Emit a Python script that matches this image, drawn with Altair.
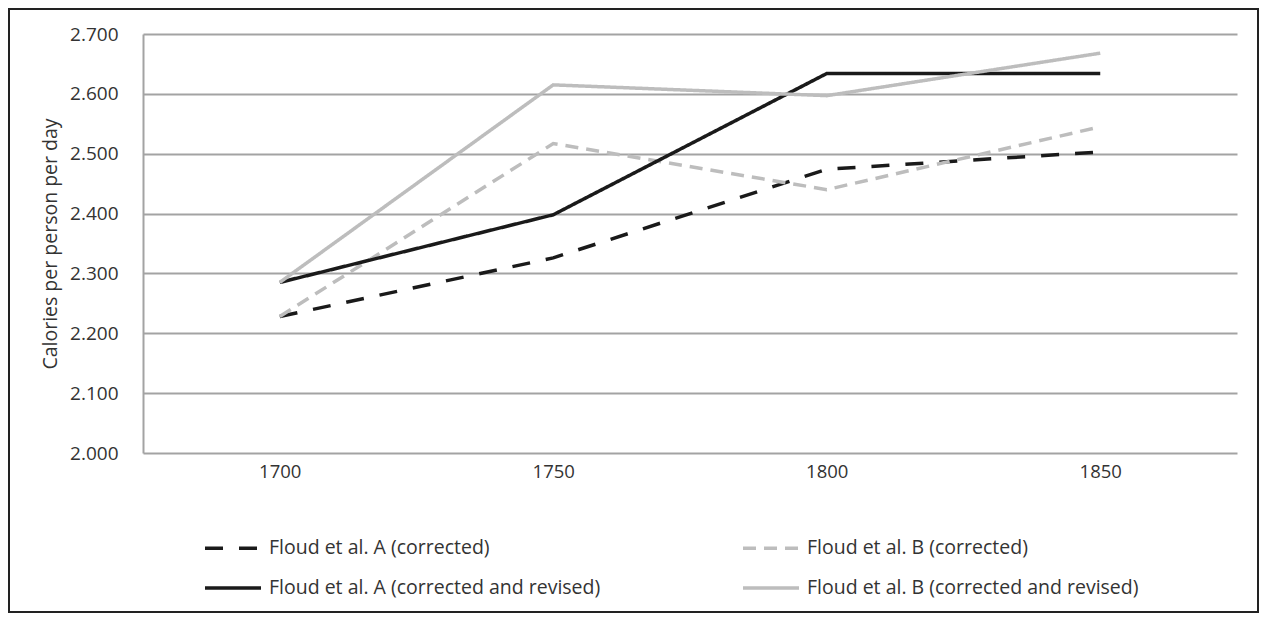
import altair as alt
import pandas as pd

years = ["1700", "1750", "1800", "1850"]
series_names = [
    "Floud et al. A (corrected)",
    "Floud et al. B (corrected)",
    "Floud et al. A (corrected and revised)",
    "Floud et al. B (corrected and revised)",
]
a_corrected = [2228, 2326, 2474, 2503]
b_corrected = [2228, 2517, 2440, 2545]
a_revised = [2285, 2398, 2634, 2634]
b_revised = [2285, 2615, 2597, 2668]
y_ticks = [2000, 2100, 2200, 2300, 2400, 2500, 2600, 2700]

rows = []
for name, vals in zip(series_names, [a_corrected, b_corrected, a_revised, b_revised]):
    for yr, v in zip(years, vals):
        rows.append({"year": yr, "value": v, "series": name})
df = pd.DataFrame(rows)

FONT = "Open Sans"
TXT = "#333333"
GRID = "#a3a3a3"

legend = alt.Legend(
    orient="none", legendX=60, legendY=484, columns=2, direction="horizontal",
    symbolType="stroke", symbolSize=3136, symbolStrokeWidth=3.5,
    labelFont=FONT, labelFontSize=19.5, labelColor=TXT, labelOffset=6,
    labelLimit=600, columnPadding=135, rowPadding=-22.5, title=None,
)

colors = ["#1a1a1a", "#bdbdbd", "#1a1a1a", "#bdbdbd"]
dashes = [[18, 16], [13, 8], [1, 0], [1, 0]]

lines = alt.Chart(df).mark_line(strokeWidth=3.5, strokeCap="butt").encode(
    x=alt.X("year:O", scale=alt.Scale(type="point", padding=0.5), sort=years,
            axis=alt.Axis(title=None, labelAngle=0, ticks=False, domain=False,
                          labelFont=FONT, labelFontSize=18.5, labelColor=TXT, labelPadding=9, grid=False)),
    y=alt.Y("value:Q", scale=alt.Scale(domain=[2000, 2700], nice=False, zero=False),
            axis=alt.Axis(title="Calories per person per day", values=y_ticks,
                          labelExpr="replace(format(datum.value, ','), ',', '.')",
                          ticks=False, domain=True, domainColor=GRID, domainWidth=2,
                          grid=True, gridColor=GRID, gridWidth=2,
                          labelFont=FONT, labelFontSize=19, labelColor=TXT, labelPadding=25,
                          titleFont=FONT, titleFontSize=19.5, titleFontWeight="normal",
                          titleColor=TXT, titlePadding=9)),
    color=alt.Color("series:N", scale=alt.Scale(domain=series_names, range=colors), legend=legend,
                    sort=series_names),
    strokeDash=alt.StrokeDash("series:N", scale=alt.Scale(domain=series_names, range=dashes),
                              legend=legend, sort=series_names),
)

border = alt.Chart(pd.DataFrame({"k": [0]})).mark_rect(
    fillOpacity=0, stroke="#222222", strokeWidth=2
).encode(x=alt.value(-134), x2=alt.value(1115), y=alt.value(-25), y2=alt.value(578))

chart = alt.layer(lines, border).properties(
    width=1094, height=419,
    autosize=alt.AutoSizeParams(type="none"),
    padding={"left": 135, "top": 26, "right": 23, "bottom": 161},
).configure_view(stroke=None)

chart.save("out.html", embed_options={"renderer": "svg", "actions": False})
